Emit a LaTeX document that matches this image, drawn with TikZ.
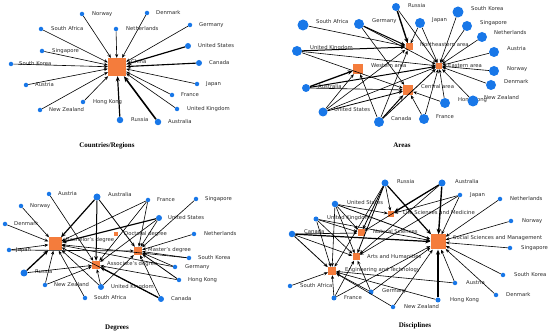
\documentclass[tikz,border=0pt]{standalone}
\usepackage{fontspec}
\setmainfont{DejaVu Sans}
\newfontfamily\capfont{Liberation Serif}
\usetikzlibrary{arrows.meta}
\definecolor{dotblue}{HTML}{1877E8}
\definecolor{sqorange}{HTML}{F47C3C}
\definecolor{lblgray}{HTML}{2A2A2A}
\tikzset{
 dotnode/.style={circle,fill=dotblue,inner sep=0pt,minimum size=#1},
 sqnode/.style={rectangle,fill=sqorange,inner sep=0pt,minimum size=#1},
 lbl/.style={anchor=west,inner sep=0pt,font=\fontsize{5.3}{6}\selectfont,text=lblgray},
 capt/.style={font=\capfont\bfseries\fontsize{7}{8}\selectfont},
 conn/.style={draw=black,-{Stealth[length=2.6pt 2,width=2.2pt 1.6]}},
}
\begin{document}
\begin{tikzpicture}[x=1pt,y=-1pt]
\useasboundingbox (0,0) rectangle (550,336);
% ---------- Countries/Regions ----------
\node[sqnode=18pt] (Achina) at (117,67) {};
\node[lbl] at (131,62) {China};
\foreach \id/\x/\y/\s/\lx/\w/\t in {
 Ano/82/14/4.5/92/0.6/Norway,
 Adk/147/13/4.5/156/0.6/Denmark,
 Asa/41/29/4.5/51/0.6/South Africa,
 Anl/116/29/4.5/126/0.6/Netherlands,
 Ade/190/25/4.5/199/0.6/Germany,
 Asg/42/51/4.5/52/0.6/Singapore,
 Aus/188/46/6/198/1.2/United States,
 Akr/11/64/4.5/19/0.6/South Korea,
 Aca/199/63/6/209/1.1/Canada,
 Aat/26/85/4.5/35/0.6/Austria,
 Ajp/197/84/4.5/206/0.6/Japan,
 Afr/172/95/4.5/181/0.6/France,
 Ahk/83/102/4.5/93/0.6/Hong Kong,
 Anz/40/110/4.5/49/0.6/New Zealand,
 Auk/177/109/4.5/187/0.6/United Kingdom,
 Aru/120/120/6.5/131/1.2/Russia,
 Aau/158/122/6.5/168/1.6/Australia}{
 \node[dotnode=\s pt] (\id) at (\x,\y) {};
 \node[lbl] at (\lx,\y) {\t};
 \draw[conn,line width=\w pt] (\id) -- (Achina);
}
\node[capt] at (107,146) {Countries/Regions};
% ---------- Areas ----------
\foreach \id/\x/\y/\s/\lx/\ly/\t in {
 Bne/409/47/7/420/45/Northeastern area,
 Bea/439/66/6/448/66/Eastern area,
 Bwe/358/69/10/371/66/Western area,
 Bce/408/90/10/421/87/Central area}{
 \node[sqnode=\s pt] (\id) at (\x,\y) {};
 \node[lbl] at (\lx,\ly) {\t};
}
\foreach \id/\x/\y/\s/\lx/\ly/\t in {
 Bru/396/7/8/408/6/Russia,
 Bkr/458/12/11/471/9/South Korea,
 Bsa/303/25/11/316/22/South Africa,
 Bde/359/24/10/372/21/Germany,
 Bjp/420/23/10/432/20/Japan,
 Bsg/467/26/10/480/23/Singapore,
 Bnl/482/37/10/494/33/Netherlands,
 Buk/297/51/10/310/48/United Kingdom,
 Bat/494/52/10/507/49/Austria,
 Bno/494/71/10/507/69/Norway,
 Bdk/491/85/10/504/82/Denmark,
 Bau/306/88/8/318/87/Australia,
 Bhk/445/103/10/458/100/Hong Kong,
 Bnz/473/101/11/484/98/New Zealand,
 Bus/323/112/9/334/110/United States,
 Bfr/424/119/10/436/117/France,
 Bca/379/122/10/391/119/Canada}{
 \node[dotnode=\s pt] (\id) at (\x,\y) {};
 \node[lbl] at (\lx,\ly) {\t};
}
\foreach \a/\b/\w in {
 Bru/Bne/1.4, Bru/Bea/0.6, Bsa/Bne/0.6, Bde/Bne/1.0, Bde/Bce/0.6, Bde/Bea/0.6,
 Bjp/Bne/0.6, Bjp/Bea/0.6, Bkr/Bea/0.6, Bsg/Bea/0.6, Bnl/Bea/0.6, Bat/Bea/0.6,
 Bno/Bea/0.6, Bdk/Bea/0.6, Bnz/Bea/0.6, Bhk/Bea/0.6, Bhk/Bce/0.6, Bfr/Bea/0.6,
 Bfr/Bce/0.6, Bca/Bea/0.8, Bca/Bce/1.0, Bca/Bwe/0.6, Bca/Bne/0.6,
 Buk/Bne/1.0, Buk/Bea/0.6, Buk/Bce/0.6, Bau/Bwe/1.3, Bau/Bea/1.0, Bau/Bce/0.6,
 Bus/Bwe/0.6, Bus/Bne/0.6, Bus/Bce/0.8, Bus/Bea/0.6}{
 \draw[conn,line width=\w pt] (\a) -- (\b);
}
\node[capt] at (402,145) {Areas};
% ---------- Degrees ----------
\foreach \id/\x/\y/\s/\lx/\ly/\t in {
 Cba/55/244/13/66/240/Bachelor's degree,
 Cdr/116/234/4/124/234/Doctoral degree,
 Cma/138/251/8/148/250/Master's degree,
 Cas/96/265/8/107/264/Associate's degree}{
 \node[sqnode=\s pt] (\id) at (\x,\y) {};
 \node[lbl] at (\lx,\ly) {\t};
}
\foreach \id/\x/\y/\s/\lx/\ly/\t in {
 Cat/49/194/4.5/58/194/Austria,
 Cau/97/197/7/108/195/Australia,
 Cfr/148/200/4.5/157/200/France,
 Csg/196/199/4.5/205/199/Singapore,
 Cno/21/206/4.5/30/206/Norway,
 Cus/159/218/6/168/218/United States,
 Cdk/5/224/4.5/14/224/Denmark,
 Cnl/194/234/4.5/204/234/Netherlands,
 Cjp/9/250/4.5/16/250/Japan,
 Ckr/189/258/4.5/198/258/South Korea,
 Cde/175/267/4.5/185/267/Germany,
 Cru/24/273/7/35/272/Russia,
 Chk/179/280/4.5/188/280/Hong Kong,
 Cnz/45/285/4.5/54/285/New Zealand,
 Cuk/101/287/6/111/287/United Kingdom,
 Cza/85/298/4.5/94/298/South Africa,
 Cca/161/299/6/171/299/Canada}{
 \node[dotnode=\s pt] (\id) at (\x,\y) {};
 \node[lbl] at (\lx,\ly) {\t};
}
\foreach \a/\b/\w in {
 Cat/Cas/0.6, Cau/Cba/1.2, Cau/Cas/1.0, Cau/Cma/0.8,
 Cfr/Cba/0.6, Cfr/Cas/0.6, Cfr/Cma/0.6, Csg/Cma/0.6, Cno/Cba/0.6,
 Cus/Cba/1.2, Cus/Cma/0.6, Cus/Cas/0.6, Cdk/Cba/0.6, Cnl/Cma/0.6,
 Cjp/Cba/0.6, Cjp/Cma/0.6, Ckr/Cma/0.6, Ckr/Cba/0.6, Cde/Cma/0.6, Cde/Cba/0.6,
 Cru/Cba/1.3, Cru/Cas/0.6, Chk/Cma/0.8, Chk/Cas/0.6, Cnz/Cba/0.6, Cnz/Cas/0.6,
 Cuk/Cba/0.6, Cuk/Cas/0.6, Cuk/Cma/0.6, Cza/Cba/0.6,
 Cca/Cas/1.2, Cca/Cma/0.6, Cca/Cba/0.6}{
 \draw[conn,line width=\w pt] (\a) -- (\b);
}
\node[capt] at (117,328) {Degrees};
% ---------- Disciplines ----------
\foreach \id/\x/\y/\s/\lx/\ly/\t in {
 Dls/391/214/6/403/213/Life Sciences and Medicine,
 Dns/361/233/7/373/232/Natural Sciences,
 Dss/438/242/15/453/238/Social Sciences and Management,
 Dah/356/257/7/367/257/Arts and Humanities,
 Det/332/271/8/345/270/Engineering and Technology}{
 \node[sqnode=\s pt] (\id) at (\x,\y) {};
 \node[lbl] at (\lx,\ly) {\t};
}
\foreach \id/\x/\y/\s/\lx/\ly/\t in {
 Dru/385/183/7/397/182/Russia,
 Dau/442/183/7/455/182/Australia,
 Djp/460/195/4.5/470/195/Japan,
 Dnl/500/199/4.5/510/199/Netherlands,
 Dus/335/204/6.5/347/203/United States,
 Duk/316/219/5/327/218/United Kingdom,
 Dno/511/221/4.5/522/221/Norway,
 Dca/292/234/6.5/304/232/Canada,
 Dsg/510/248/4.5/521/248/Singapore,
 Dkr/503/275/4.5/514/275/South Korea,
 Dat/455/283/4.5/466/283/Austria,
 Dza/290/286/4.5/300/286/South Africa,
 Dde/371/292/5/382/291/Germany,
 Ddk/496/295/4.5/506/295/Denmark,
 Dfr/334/298/5/344/298/France,
 Dhk/438/300/5/450/300/Hong Kong,
 Dnz/393/307/4.5/404/307/New Zealand}{
 \node[dotnode=\s pt] (\id) at (\x,\y) {};
 \node[lbl] at (\lx,\ly) {\t};
}
\foreach \a/\b/\w in {
 Dru/Dls/0.6, Dru/Dns/0.8, Dru/Dah/0.8, Dru/Dss/1.2, Dru/Det/0.6,
 Dau/Dss/1.4, Dau/Dls/1.2, Dau/Dns/0.6, Dau/Dah/0.6,
 Djp/Dss/0.6, Djp/Dah/0.6, Djp/Dls/0.6,
 Dnl/Dss/0.6, Dno/Dss/0.6, Dsg/Dss/0.6, Dkr/Dss/0.6, Ddk/Dss/0.6,
 Dat/Dss/0.6, Dat/Det/0.6, Dhk/Dss/1.2, Dhk/Det/0.6, Dnz/Dss/0.6, Dnz/Det/0.6,
 Dus/Dls/0.6, Dus/Dss/0.8, Dus/Det/0.6, Dus/Dah/0.6, Dus/Dns/0.6,
 Duk/Dns/0.6, Duk/Det/0.6, Duk/Dah/0.6, Duk/Dss/0.6,
 Dca/Dss/1.2, Dca/Dns/0.6, Dca/Det/0.8, Dca/Dah/0.6,
 Dza/Det/0.6, Dde/Dah/0.6, Dde/Dss/0.6, Dde/Det/0.6,
 Dfr/Det/0.6, Dfr/Dah/0.6, Dfr/Dss/0.6}{
 \draw[conn,line width=\w pt] (\a) -- (\b);
}
\node[capt] at (415,326) {Disciplines};
\end{tikzpicture}
\end{document}
